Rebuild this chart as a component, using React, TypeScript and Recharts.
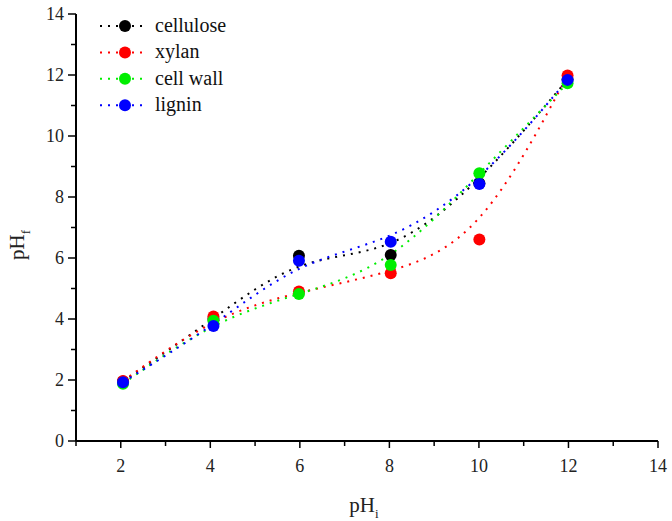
import React from "react";
import { LineChart, Line, XAxis, YAxis } from "recharts";

const phInitial = [2.05, 4.07, 5.98, 8.03, 10.01, 11.98];
const cellulose = [1.95, 4.0, 6.07, 6.1, 8.45, 11.85];
const xylan = [1.97, 4.08, 4.9, 5.5, 6.61, 11.98];
const cellWall = [1.88, 3.94, 4.82, 5.77, 8.78, 11.73];
const lignin = [1.93, 3.77, 5.91, 6.53, 8.43, 11.84];

const xTicks = [1, 2, 3, 4, 5, 6, 7, 8, 9, 10, 11, 12, 13, 14];
const yTicks = [0, 1, 2, 3, 4, 5, 6, 7, 8, 9, 10, 11, 12, 13, 14];

const seriesDefs = [
  { name: "cellulose", values: cellulose, color: "#000000" },
  { name: "xylan", values: xylan, color: "#ff0000" },
  { name: "cell wall", values: cellWall, color: "#00ee00" },
  { name: "lignin", values: lignin, color: "#0000ff" },
];

const series = seriesDefs.map((s) => ({
  ...s,
  data: phInitial.map((x, i) => ({ x, y: s.values[i] })),
}));

const serif = { fontFamily: "Liberation Serif" };

const XTick = (props: any) => {
  const { x, y, payload } = props;
  const v = payload.value;
  const major = v % 2 === 0;
  return (
    <g>
      <line x1={x} y1={y} x2={x} y2={y + (major ? 7 : 5)} stroke="#000" strokeWidth={1.5} />
      {major && (
        <text x={x} y={y + 31} textAnchor="middle" style={serif} fontSize={18} fill="#222">
          {v}
        </text>
      )}
    </g>
  );
};

const YTick = (props: any) => {
  const { x, y, payload } = props;
  const v = payload.value;
  const major = v % 2 === 0;
  return (
    <g>
      <line x1={x} y1={y} x2={x - (major ? 8 : 5)} y2={y} stroke="#000" strokeWidth={1.5} />
      {major && (
        <text x={x - 12} y={y + 6} textAnchor="end" style={serif} fontSize={18} fill="#222">
          {v}
        </text>
      )}
    </g>
  );
};

const renderDot = (color: string) => (p: any) => (
  <circle key={`${color}-${p.index}`} cx={p.cx} cy={p.cy} r={6} fill={color} stroke="none" />
);

export default function App() {
  return (
    <div style={{ position: "relative", width: 672, height: 521 }}>
      <style>{`body{margin:0}`}</style>
      <LineChart width={672} height={521} margin={{ top: 14, right: 14, left: 0, bottom: 0 }}>
        <XAxis
          type="number"
          dataKey="x"
          domain={[1, 14]}
          ticks={xTicks}
          interval={0}
          tickSize={0}
          tickMargin={0}
          tickLine={false}
          tick={<XTick />}
          height={80}
          stroke="#000"
          strokeWidth={2}
          allowDuplicatedCategory={false}
        />
        <YAxis
          type="number"
          dataKey="y"
          domain={[0, 14]}
          ticks={yTicks}
          interval={0}
          width={76}
          tickSize={0}
          tickMargin={0}
          tickLine={false}
          tick={<YTick />}
          stroke="#000"
          strokeWidth={2}
        />
        {series.map((s) => (
          <Line
            key={s.name}
            data={s.data}
            dataKey="y"
            name={s.name}
            type="basis"
            stroke={s.color}
            strokeWidth={2}
            strokeDasharray="2 6"
            dot={renderDot(s.color)}
            activeDot={false}
            isAnimationActive={false}
          />
        ))}
      </LineChart>
      <svg
        width={672}
        height={521}
        style={{ position: "absolute", left: 0, top: 0, pointerEvents: "none" }}
      >
        {series.map((s, i) => {
          const cy = 26 + i * 26.4;
          return (
            <g key={s.name}>
              <line x1={100} y1={cy} x2={143} y2={cy} stroke={s.color} strokeWidth={2} strokeDasharray="2 6" />
              <circle cx={125} cy={cy} r={6} fill={s.color} />
              <text x={155} y={cy + 6} style={serif} fontSize={20} fill="#111">
                {s.name}
              </text>
            </g>
          );
        })}
        <text x={364} y={512} textAnchor="middle" style={serif} fontSize={21} fill="#222">
          pH
          <tspan fontSize={13} dy={6}>i</tspan>
        </text>
        <text
          x={24}
          y={245}
          textAnchor="middle"
          style={serif}
          fontSize={21}
          fill="#222"
          transform="rotate(-90 24 245)"
        >
          pH
          <tspan fontSize={13} dy={6}>f</tspan>
        </text>
      </svg>
    </div>
  );
}
